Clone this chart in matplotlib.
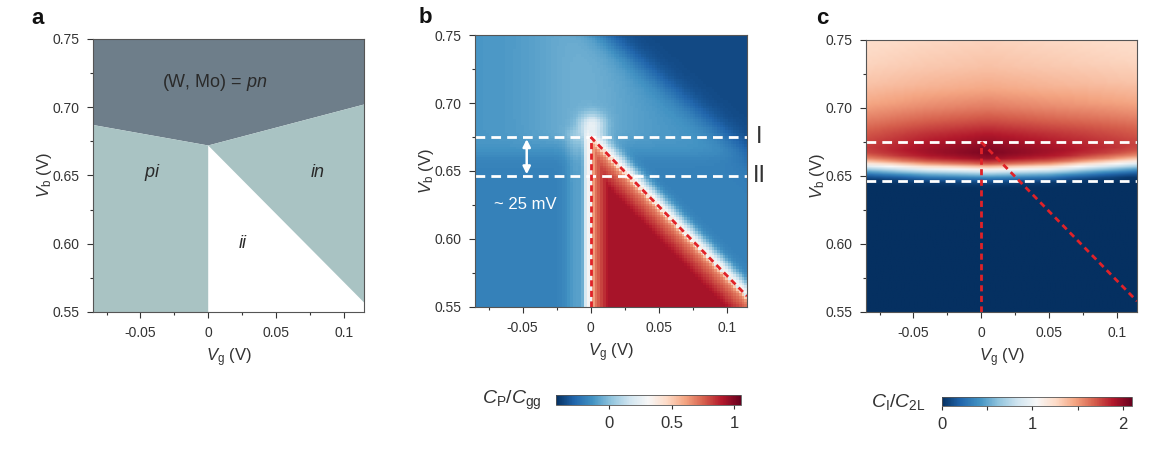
import numpy as np
import matplotlib
matplotlib.use('Agg')
import matplotlib.pyplot as plt

plt.rcParams['font.family'] = ['Liberation Sans', 'DejaVu Sans']
plt.rcParams['mathtext.fontset'] = 'custom'
plt.rcParams['mathtext.rm'] = 'Liberation Sans'
plt.rcParams['mathtext.it'] = 'Liberation Sans:italic'
plt.rcParams['mathtext.bf'] = 'Liberation Sans:bold'

TXT = '#333333'

# axis ranges and ticks (V)
vg_lim = (-0.085, 0.115)
vb_lim = (0.55, 0.75)
vg_ticks = [-0.05, 0, 0.05, 0.1]
vg_ticklabels = ['-0.05', '0', '0.05', '0.1']
vb_ticks = [0.55, 0.60, 0.65, 0.70, 0.75]
vb_ticklabels = ['0.55', '0.60', '0.65', '0.70', '0.75']

# panel a: phase regions, corners
pn_vg = [-0.085, 0.0, 0.115, 0.115, -0.085]
pn_vb = [0.687, 0.672, 0.702, 0.75, 0.75]
pi_vg = [-0.085, 0.0, 0.0, -0.085]
pi_vb = [0.55, 0.55, 0.672, 0.687]
in_vg = [0.0, 0.115, 0.115]
in_vb = [0.672, 0.702, 0.557]
phase_names = ['(W, Mo) = $\\mathit{pn}$', '$\\mathit{pi}$', '$\\mathit{in}$', '$\\mathit{ii}$']
phase_vg = [0.005, -0.041, 0.081, 0.026]
phase_vb = [0.718, 0.652, 0.652, 0.6005]

# dashed guide lines (b and c)
line_I = 0.675
line_II = 0.646
diag_vg = [0.0, 0.115]
diag_vb = [0.675, 0.558]

# panel b levels (C_P/C_gg) read against its colour bar
b_upper = -0.12    # upper left blue
b_lower = -0.19    # lower left blue
b_dark = -0.36     # upper right dark blue
b_white = 0.30     # white edges
b_salmon = 0.58    # edge of the red triangle
b_core = 0.92      # inside of the red triangle
dark_edge_vg = [0.0, 0.115]
dark_edge_vb = [0.758, 0.662]
apex_vg, apex_vb = 0.001, 0.684

# panel c profile (C_I/C_2L) along Vb at Vg ~ 0
c_vb = [0.55, 0.640, 0.644, 0.647, 0.650, 0.653, 0.656, 0.659, 0.663, 0.667,
        0.672, 0.680, 0.690, 0.700, 0.715, 0.730, 0.750]
c_val = [0.0, 0.0, 0.04, 0.2, 0.5, 0.85, 1.25, 1.7, 1.97, 2.04,
         2.0, 1.9, 1.74, 1.6, 1.45, 1.36, 1.29]
# horizontal change of the band: upward shift and strength
c_knot_vg = [-0.085, -0.04, 0.005, 0.05, 0.115]
c_shift = [0.0035, 0.001, 0.0, 0.001, 0.0055]
c_gain = [0.74, 0.9, 1.0, 0.9, 0.72]

b_vmin, b_vmax = -0.43, 1.05
c_vmin, c_vmax = 0.0, 2.1

vg = np.arange(vg_lim[0] + 0.001, vg_lim[1], 0.002)
vb = np.arange(vb_lim[0] + 0.001, vb_lim[1], 0.002)
X, Y = np.meshgrid(vg, vb)


def step(t):
    return 0.5 * (1 + np.tanh(t))


# ---- build map b ----
bmap = b_lower + (b_upper - b_lower) * step((Y - 0.662) / 0.006)
slope = (dark_edge_vb[1] - dark_edge_vb[0]) / (dark_edge_vg[1] - dark_edge_vg[0])
edge_y = dark_edge_vb[0] + (X - dark_edge_vg[0]) * slope
bmap = bmap + (b_dark - bmap) * step((Y - edge_y) / 0.014)
# lighter blue fan above the apex
fan = np.exp(-((X + 0.005) / 0.04) ** 2) * step((Y - 0.672) / 0.005) * step((edge_y - Y) / 0.01)
bmap = bmap + 0.07 * fan
glow = 0.85 * np.exp(-((X - apex_vg) / 0.009) ** 2 - ((Y - apex_vb) / 0.008) ** 2)
bmap = bmap + (b_white - bmap) * glow
# white strip just left of Vg = 0
strip = np.exp(-((X + 0.0025) / 0.0024) ** 2) * step((0.68 - Y) / 0.004)
bmap = bmap + (b_white - bmap) * strip
wide = np.exp(-((X + 0.01) / 0.008) ** 2) * step((0.68 - Y) / 0.004)
bmap = bmap + 0.1 * wide
# red triangle
dslope = (diag_vb[1] - diag_vb[0]) / (diag_vg[1] - diag_vg[0])
diag_y = diag_vb[0] + X * dslope
dist = diag_y - Y
out_band = np.exp(-(np.clip(-dist, 0, None) / 0.010) ** 2) * step(X / 0.002) * step((0.685 - Y) / 0.004)
bmap = bmap + (b_white - bmap) * out_band * (dist < 0)
inside = step(X / 0.0012) * step(dist / 0.0025)
depth = np.minimum(np.clip(X / 0.013, 0, 1), np.clip(dist / 0.024, 0, 1)) ** 0.8
red = b_salmon + (b_core - b_salmon) * depth
bmap = bmap * (1 - inside) + red * inside

# ---- build map c ----
shift = np.interp(X, c_knot_vg, c_shift)
gain = np.interp(X, c_knot_vg, c_gain)
prof = np.interp(Y - shift, c_vb, c_val)
cmap_vals = np.where(prof > 1.05, 1.05 + (prof - 1.05) * gain, prof)

fig = plt.figure(figsize=(11.53, 4.54), dpi=100)
ax_a = fig.add_axes([0.0807, 0.3128, 0.2350, 0.6013])
ax_b = fig.add_axes([0.4120, 0.3238, 0.2359, 0.5991])
ax_c = fig.add_axes([0.7511, 0.3128, 0.2350, 0.5991])
ext = [vg_lim[0], vg_lim[1], vb_lim[0], vb_lim[1]]

# panel a
ax_a.set_facecolor('white')
ax_a.fill(pn_vg, pn_vb, color='#6e7e8a', lw=0)
ax_a.fill(pi_vg, pi_vb, color='#a9c3c3', lw=0)
ax_a.fill(in_vg, in_vb, color='#a9c3c3', lw=0)
for name, x, y in zip(phase_names, phase_vg, phase_vb):
    ax_a.text(x, y, name, fontsize=13, color='#2a2a2a', ha='center', va='center')

# panel b
im_b = ax_b.imshow(bmap, extent=ext, origin='lower', aspect='auto', cmap='RdBu_r',
                   vmin=b_vmin, vmax=b_vmax, interpolation='nearest')
# panel c
im_c = ax_c.imshow(cmap_vals, extent=ext, origin='lower', aspect='auto', cmap='RdBu_r',
                   vmin=c_vmin, vmax=c_vmax, interpolation='bilinear')

for ax in (ax_b, ax_c):
    ax.axhline(line_I, color='white', lw=2, ls=(0, (3.5, 2.2)))
    ax.axhline(line_II, color='white', lw=2, ls=(0, (3.5, 2.2)))
    ax.plot([0, 0], [vb_lim[0], line_I], color='#e02228', lw=2, ls=(0, (2.2, 1.6)))
    ax.plot(diag_vg, diag_vb, color='#e02228', lw=2, ls=(0, (2.2, 1.6)))

ax_b.annotate('', xy=(-0.047, line_I + 0.0005), xytext=(-0.047, line_II - 0.0005),
              arrowprops=dict(arrowstyle='<|-|>', color='white', lw=1.8, mutation_scale=11))
ax_b.text(-0.048, 0.625, '~ 25 mV', color='white', fontsize=12, ha='center', va='center')
ax_b.text(1.045, line_I, 'I', transform=ax_b.get_yaxis_transform(), fontsize=17,
          color=TXT, ha='center', va='center')
ax_b.text(1.045, line_II, 'II', transform=ax_b.get_yaxis_transform(), fontsize=17,
          color=TXT, ha='center', va='center')

for ax in (ax_a, ax_b, ax_c):
    ax.set_xlim(vg_lim)
    ax.set_ylim(vb_lim)
    ax.set_xticks(vg_ticks)
    ax.set_xticklabels(vg_ticklabels)
    ax.set_yticks(vb_ticks)
    ax.set_yticklabels(vb_ticklabels)
    ax.set_xticks([-0.075, -0.025, 0.025, 0.075], minor=True)
    ax.set_yticks([0.575, 0.625, 0.675, 0.725], minor=True)
    ax.tick_params(which='major', direction='out', length=4, width=0.8,
                   labelsize=10, colors=TXT, pad=6)
    ax.tick_params(which='minor', direction='out', length=2.5, width=0.8, colors=TXT)
    for s in ax.spines.values():
        s.set_color('#555555')
        s.set_linewidth(0.8)
    ax.set_xlabel('$V_\\mathrm{g}$ (V)', fontsize=12, color=TXT, labelpad=5)
    ax.set_ylabel('$V_\\mathrm{b}$ (V)', fontsize=12, color=TXT, labelpad=-1)

for letter, x, y in [('a', 0.027, 0.96), ('b', 0.363, 0.962), ('c', 0.708, 0.96)]:
    fig.text(x, y, letter, fontsize=16, fontweight='bold', color='#111111',
             ha='left', va='center')

# colour bars
cax_b = fig.add_axes([0.4820, 0.1080, 0.1604, 0.0220])
cb_b = fig.colorbar(im_b, cax=cax_b, orientation='horizontal', ticks=[0, 0.5, 1])
cb_b.ax.set_xticklabels(['0', '0.5', '1'])
cax_c = fig.add_axes([0.8167, 0.1057, 0.1653, 0.0205])
cb_c = fig.colorbar(im_c, cax=cax_c, orientation='horizontal', ticks=[0, 0.5, 1, 1.5, 2])
cb_c.ax.set_xticklabels(['0', '', '1', '', '2'])
for cb in (cb_b, cb_c):
    cb.ax.tick_params(length=3, width=0.8, labelsize=12, colors=TXT, pad=5)
    cb.outline.set_linewidth(0.6)
    cb.outline.set_edgecolor('#555555')
fig.text(0.470, 0.117, '$C_\\mathrm{P}/C_\\mathrm{gg}$', fontsize=14, color=TXT,
         ha='right', va='center')
fig.text(0.803, 0.115, '$C_\\mathrm{I}/C_\\mathrm{2L}$', fontsize=14, color=TXT,
         ha='right', va='center')

fig.savefig('out.png', dpi=100)
